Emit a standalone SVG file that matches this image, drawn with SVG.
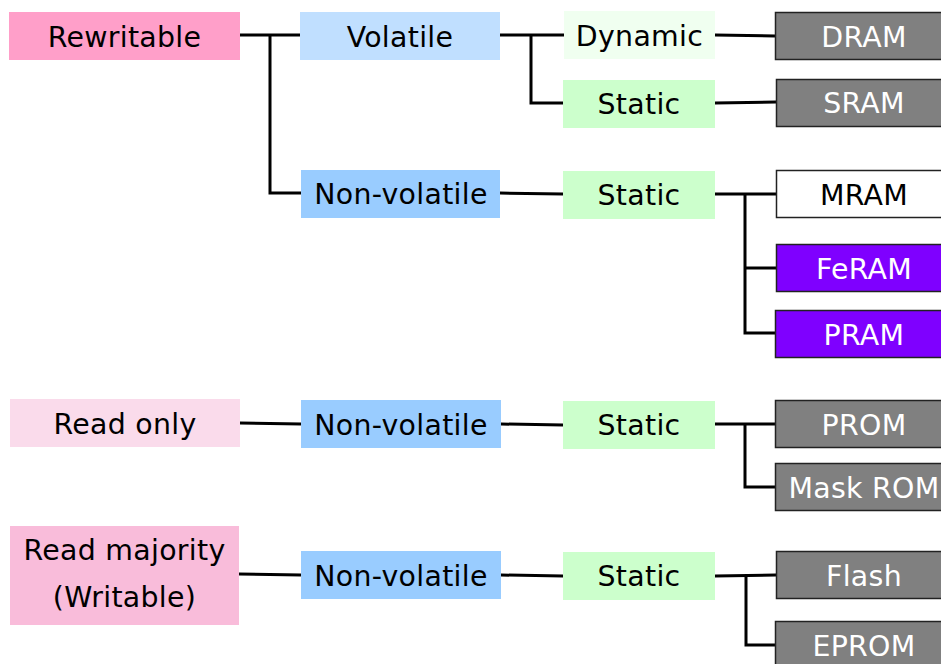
<svg xmlns="http://www.w3.org/2000/svg" width="941" height="664" viewBox="0 0 941 664">
<style>
text{font-family:"DejaVu Sans",Verdana,sans-serif;font-size:28.4px;letter-spacing:0.3px;text-anchor:middle;fill:#000}
.w{fill:#fff}
.gray{fill:#808080;stroke:#222;stroke-width:1.5}
.purple{fill:#7F00FF;stroke:#222;stroke-width:1.5}
.white{fill:#fff;stroke:#222;stroke-width:1.5}
.nv{fill:#99CCFF}
.st{fill:#CCFFCC}
.conn{fill:none;stroke:#000;stroke-width:3;stroke-linejoin:miter}
</style>
<rect width="941" height="664" fill="#fff"/>
<g id="connectors" class="conn">
<polyline points="240,35 300,35"/>
<polyline points="270,35 270,193 301,193"/>
<polyline points="500,35 564,35"/>
<polyline points="531,35 531,103 563,103"/>
<polyline points="715,35 775,36"/>
<polyline points="715,103 776,102"/>
<polyline points="500,193 563,194"/>
<polyline points="715,194 776,194"/>
<polyline points="745,194 745,333 775,333"/>
<polyline points="745,268 776,268"/>
<polyline points="240,423 301,424"/>
<polyline points="501,424 563,425"/>
<polyline points="715,424 775,424"/>
<polyline points="745,424 745,487 775,487"/>
<polyline points="239,574 301,575"/>
<polyline points="501,575 563,576"/>
<polyline points="715,576 776,575"/>
<polyline points="746,576 746,645 775,645"/>
</g>
<g id="rewritable"><rect x="9" y="12" width="231" height="48" fill="#FF9FC9"/><text x="124.5" y="46.5">Rewritable</text></g>
<g id="volatile"><rect x="300" y="12" width="200" height="48" fill="#C0DFFF"/><text x="400" y="46.5">Volatile</text></g>
<g id="dynamic"><rect x="564" y="11" width="151" height="48" fill="#F0FFF0"/><text x="639.5" y="45.5">Dynamic</text></g>
<g id="static1"><rect x="563" y="80" width="152" height="48" class="st"/><text x="639" y="114">Static</text></g>
<g id="dram"><rect x="775.5" y="12.5" width="170" height="47" class="gray"/><text class="w" x="864" y="46.5">DRAM</text></g>
<g id="sram"><rect x="776.5" y="79.5" width="170" height="47" class="gray"/><text class="w" x="864" y="113">SRAM</text></g>
<g id="nonvolatile1"><rect x="301" y="170" width="199" height="48" class="nv"/><text x="401" y="204">Non-volatile</text></g>
<g id="static2"><rect x="563" y="171" width="152" height="48" class="st"/><text x="639" y="205">Static</text></g>
<g id="mram"><rect x="776.5" y="170.5" width="170" height="47" class="white"/><text x="864" y="204.5">MRAM</text></g>
<g id="feram"><rect x="776.5" y="244.5" width="170" height="47" class="purple"/><text class="w" x="864" y="278.5">FeRAM</text></g>
<g id="pram"><rect x="775.5" y="310.5" width="170" height="47" class="purple"/><text class="w" x="864" y="344.5">PRAM</text></g>
<g id="readonly"><rect x="10" y="399" width="230" height="48" fill="#FADBEB"/><text x="125" y="433.5">Read only</text></g>
<g id="nonvolatile2"><rect x="301" y="400" width="200" height="48" class="nv"/><text x="401" y="434.5">Non-volatile</text></g>
<g id="static3"><rect x="563" y="401" width="152" height="48" class="st"/><text x="639" y="435">Static</text></g>
<g id="prom"><rect x="775.5" y="400.5" width="170" height="47" class="gray"/><text class="w" x="864" y="434.5">PROM</text></g>
<g id="maskrom"><rect x="775.5" y="463.5" width="170" height="47" class="gray"/><text class="w" x="864" y="497.5">Mask ROM</text></g>
<g id="readmajority"><rect x="10" y="526" width="229" height="99" fill="#F9BCDA"/><text x="124.5" y="560">Read majority</text><text x="124.5" y="607">(Writable)</text></g>
<g id="nonvolatile3"><rect x="301" y="551" width="200" height="48" class="nv"/><text x="401" y="585.5">Non-volatile</text></g>
<g id="static4"><rect x="563" y="552" width="152" height="48" class="st"/><text x="639" y="586">Static</text></g>
<g id="flash"><rect x="776.5" y="551.5" width="170" height="47" class="gray"/><text class="w" x="864" y="585.5">Flash</text></g>
<g id="eprom"><rect x="775.5" y="621.5" width="170" height="47" class="gray"/><text class="w" x="864" y="655.5">EPROM</text></g>
</svg>
